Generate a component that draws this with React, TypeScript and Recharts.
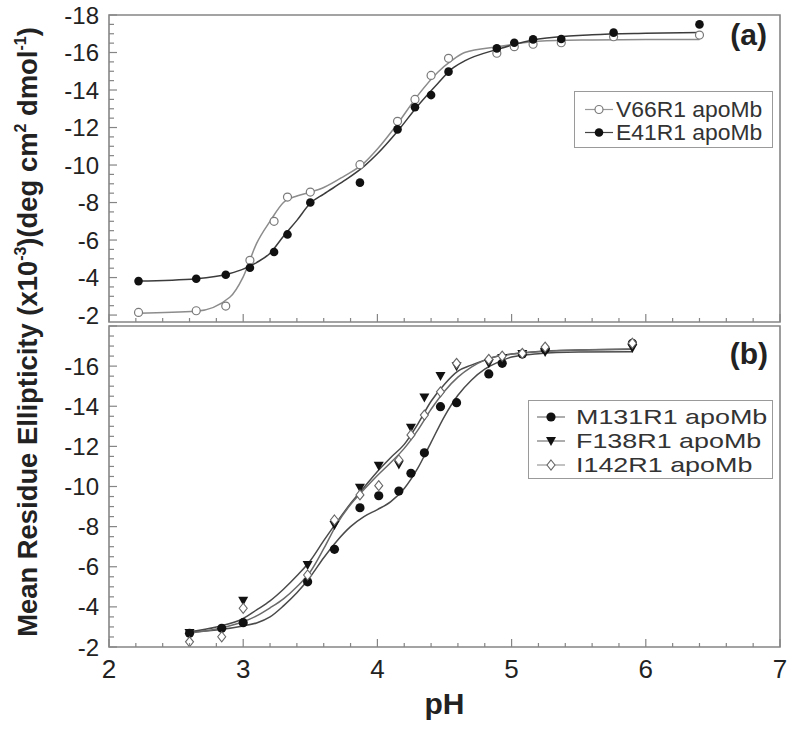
import { ComposedChart, Line, Scatter, XAxis, YAxis, ReferenceArea, Legend, Label } from "recharts"

// ---- panel (a) measured points ----
const phA = [2.22, 2.65, 2.87, 3.05, 3.23, 3.33, 3.5, 3.87, 4.15, 4.28, 4.4, 4.53, 4.89, 5.02, 5.16, 5.37, 5.76, 6.4]
const v66 = [-2.14, -2.23, -2.48, -4.92, -7.0, -8.29, -8.56, -10.02, -12.33, -13.5, -14.78, -15.69, -15.96, -16.31, -16.44, -16.52, -16.84, -16.93]
const e41 = [-3.81, -3.94, -4.15, -4.52, -5.36, -6.3, -8.0, -9.06, -11.9, -13.08, -13.73, -14.98, -16.22, -16.52, -16.7, -16.72, -17.06, -17.5]

// ---- panel (a) fitted curves ----
const fitPhA = [2.22, 2.65, 2.9, 3.0, 3.1, 3.2, 3.3, 3.4, 3.5, 3.6, 3.75, 3.9, 4.0, 4.15, 4.3, 4.45, 4.55, 4.65, 4.9, 5.2, 5.6, 6.0, 6.4]
const v66Fit = [-2.1, -2.2, -2.95, -4.04, -5.82, -7.0, -8.0, -8.35, -8.55, -8.8, -9.4, -10.1, -10.85, -12.2, -13.7, -14.95, -15.55, -16.0, -16.31, -16.6, -16.67, -16.7, -16.7]
const e41Fit = [-3.81, -3.94, -4.22, -4.45, -4.8, -5.3, -6.2, -7.05, -7.96, -8.45, -9.15, -9.93, -10.6, -11.8, -13.15, -14.35, -15.1, -15.55, -16.18, -16.72, -16.95, -17.03, -17.07]

// ---- panel (b) measured points ----
const phB = [2.6, 2.84, 3.0, 3.48, 3.68, 3.87, 4.01, 4.16, 4.25, 4.35, 4.47, 4.59, 4.83, 4.93, 5.08, 5.25, 5.9]
const m131 = [-2.68, -2.93, -3.21, -5.25, -6.87, -8.94, -9.54, -9.77, -10.66, -11.68, -13.98, -14.18, -15.61, -16.14, -16.6, -16.84, -17.14]
const i142 = [-2.26, -2.51, -3.93, -5.59, -8.33, -9.58, -10.04, -11.32, -12.57, -13.56, -14.72, -16.14, -16.34, -16.5, -16.64, -16.95, -17.14]
const phF = [2.6, 3.0, 3.48, 3.68, 3.87, 4.01, 4.16, 4.25, 4.35, 4.47, 4.59, 4.83, 4.93, 5.08, 5.25, 5.9]
const f138 = [-2.7, -4.31, -6.09, -8.08, -9.94, -11.04, -11.1, -12.93, -14.43, -15.51, -16.0, -16.14, -16.4, -16.6, -16.7, -16.9]

// ---- panel (b) fitted curves ----
const fitPhB = [2.6, 2.8, 3.0, 3.1, 3.2, 3.3, 3.4, 3.5, 3.6, 3.7, 3.8, 3.9, 4.0, 4.1, 4.2, 4.3, 4.4, 4.5, 4.6, 4.7, 4.8, 4.9, 5.0, 5.2, 5.5, 5.9]
const m131Fit = [-2.76, -2.85, -3.05, -3.2, -3.5, -4.05, -4.7, -5.5, -6.45, -7.3, -8.0, -8.5, -8.85, -9.25, -9.9, -10.9, -12.2, -13.5, -14.55, -15.3, -15.85, -16.2, -16.45, -16.62, -16.7, -16.72]
const f138Fit = [-2.76, -3.0, -3.42, -3.85, -4.3, -4.88, -5.55, -6.3, -7.3, -8.25, -9.15, -9.95, -10.75, -11.45, -12.1, -13.1, -14.25, -15.1, -15.75, -16.05, -16.3, -16.5, -16.6, -16.73, -16.8, -16.84]
const i142Fit = [-2.7, -2.9, -3.26, -3.55, -3.95, -4.4, -5.0, -5.75, -6.9, -8.15, -9.1, -9.85, -10.55, -11.2, -11.9, -12.8, -13.85, -14.75, -15.45, -15.95, -16.3, -16.5, -16.6, -16.72, -16.8, -16.85]

// ---- axes ----
const xTicks = [2, 2.2, 2.4, 2.6, 2.8, 3, 3.2, 3.4, 3.6, 3.8, 4, 4.2, 4.4, 4.6, 4.8, 5, 5.2, 5.4, 5.6, 5.8, 6, 6.2, 6.4, 6.6, 6.8, 7]
const xLabels = [2, 3, 4, 5, 6, 7]
const yTicks = [-18, -17.5, -17, -16.5, -16, -15.5, -15, -14.5, -14, -13.5, -13, -12.5, -12, -11.5, -11, -10.5, -10, -9.5, -9, -8.5, -8, -7.5, -7, -6.5, -6, -5.5, -5, -4.5, -4, -3.5, -3, -2.5, -2]
const yLabelsA = [-18, -16, -14, -12, -10, -8, -6, -4, -2]
const yLabelsB = [-16, -14, -12, -10, -8, -6, -4, -2]
const yDomainA = [-18, -1.63]
const yDomainB = [-18, -2]

const FONT = "'Liberation Sans', Arial, sans-serif"
const INK = "#222"
const FRAME = "#858585"

const pts = (xs: number[], ys: number[]) => xs.map((x, i) => ({ x, y: ys[i] }))

function XTick(props: any) {
  const { x, y, payload, showLabel } = props
  const major = xLabels.includes(payload.value)
  return (
    <g>
      <line x1={x} x2={x} y1={y} y2={y - (major ? 8 : 4)} stroke={FRAME} strokeWidth={1.2} />
      {showLabel && major && (
        <text x={x} y={y + 31} textAnchor="middle" fontFamily={FONT} fontSize={26} fill={INK}>
          {payload.value}
        </text>
      )}
    </g>
  )
}

function YTick(props: any) {
  const { x, y, payload, labels } = props
  const major = payload.value % 2 === 0
  return (
    <g>
      <line x1={x} x2={x + (major ? 8 : 5)} y1={y} y2={y} stroke={FRAME} strokeWidth={1.2} />
      {labels.includes(payload.value) && (
        <text x={x - 10} y={y + 8.5} textAnchor="end" fontFamily={FONT} fontSize={24} fill={INK}>
          {payload.value}
        </text>
      )}
    </g>
  )
}

// marker shapes
const openCircle = (p: any) => <circle cx={p.cx} cy={p.cy} r={4} fill="#fff" stroke="#7a7a7a" strokeWidth={1.2} />
const dotA = (p: any) => <circle cx={p.cx} cy={p.cy} r={4.3} fill="#111" />
const dotB = (p: any) => <circle cx={p.cx} cy={p.cy} r={4.6} fill="#111" />
const triDown = (p: any) => (
  <polygon points={`${p.cx - 5},${p.cy - 4} ${p.cx + 5},${p.cy - 4} ${p.cx},${p.cy + 5}`} fill="#111" />
)
const diamond = (p: any) => (
  <polygon points={`${p.cx},${p.cy - 5} ${p.cx + 4},${p.cy} ${p.cx},${p.cy + 5} ${p.cx - 4},${p.cy}`} fill="#fff" stroke="#666" strokeWidth={1.1} />
)

type Item = { name: string; line: string; marker: (p: any) => any }

const legendA: Item[] = [
  { name: "V66R1 apoMb", line: "#999", marker: openCircle },
  { name: "E41R1 apoMb", line: "#444", marker: dotA },
]
const legendB: Item[] = [
  { name: "M131R1 apoMb", line: "#777", marker: dotB },
  { name: "F138R1 apoMb", line: "#777", marker: triDown },
  { name: "I142R1 apoMb", line: "#999", marker: diamond },
]

function LegendRows({ items, fontSize, rowH, symGap, stretch }: { items: Item[]; fontSize: number; rowH: number; symGap: number; stretch: number }) {
  return (
    <div style={{ fontFamily: FONT, fontSize, lineHeight: `${rowH}px`, color: "#333" }}>
      {items.map((it) => (
        <div key={it.name} style={{ display: "flex", alignItems: "center", whiteSpace: "nowrap", height: rowH, overflow: "visible" }}>
          <svg width={30} height={rowH} style={{ flex: "none" }}>
            <line x1={1} x2={29} y1={rowH / 2} y2={rowH / 2} stroke={it.line} strokeWidth={1.2} />
            {it.marker({ cx: 15, cy: rowH / 2 })}
          </svg>
          <span
            style={{
              display: "inline-block",
              height: rowH,
              lineHeight: `${rowH}px`,
              marginLeft: symGap,
              transform: `scaleX(${stretch})`,
              transformOrigin: "left center",
            }}
          >
            {it.name}
          </span>
        </div>
      ))}
    </div>
  )
}

function LegendFrame({ items, fontSize, rowH, symGap, stretch, padTop, padLeft }: any) {
  return (
    <div style={{ position: "absolute", inset: 0 }}>
      <div style={{ position: "absolute", inset: 0, border: "1px solid #9a9a9a", background: "#fff" }} />
      <div style={{ position: "absolute", top: padTop, left: padLeft }}>
        <LegendRows items={items} fontSize={fontSize} rowH={rowH} symGap={symGap} stretch={stretch} />
      </div>
    </div>
  )
}

function TopPanel() {
  return (
    <ComposedChart width={800} height={340} margin={{ top: 15, right: 20, bottom: 0, left: 0 }}>
      <XAxis
        type="number"
        dataKey="x"
        domain={[2, 7]}
        allowDataOverflow
        ticks={xTicks}
        interval={0}
        tickSize={0}
        tickMargin={0}
        axisLine={false}
        tickLine={false}
        height={18}
        tick={(p: any) => <XTick {...p} showLabel={false} />}
      />
      <YAxis
        type="number"
        dataKey="y"
        domain={yDomainA}
        allowDataOverflow
        reversed
        ticks={yTicks}
        interval={0}
        tickSize={0}
        tickMargin={0}
        axisLine={false}
        tickLine={false}
        width={109}
        tick={(p: any) => <YTick {...p} labels={yLabelsA} />}
      />
      <ReferenceArea x1={2} x2={7} y1={yDomainA[0]} y2={yDomainA[1]} fill="none" fillOpacity={0} stroke={FRAME} strokeWidth={1.6} ifOverflow="visible" />
      <Line data={pts(fitPhA, v66Fit)} dataKey="y" type="monotone" stroke="#8c8c8c" strokeWidth={1.5} dot={false} isAnimationActive={false} legendType="none" />
      <Line data={pts(fitPhA, e41Fit)} dataKey="y" type="monotone" stroke="#3c3c3c" strokeWidth={1.5} dot={false} isAnimationActive={false} legendType="none" />
      <Scatter data={pts(phA, v66)} shape={openCircle} isAnimationActive={false} />
      <Scatter data={pts(phA, e41)} shape={dotA} isAnimationActive={false} />
      <Legend
        layout="vertical"
        align="center"
        verticalAlign="middle"
        wrapperStyle={{ top: 91, left: 574, width: 199, height: 57 }}
        content={() => <LegendFrame items={legendA} fontSize={22} rowH={23} symGap={2} stretch={1.04} padTop={7} padLeft={10} />}
      />
      <text x={767} y={45} textAnchor="end" fontFamily={FONT} fontSize={30} fontWeight="bold" fill={INK}>
        (a)
      </text>
    </ComposedChart>
  )
}

function BottomPanel() {
  return (
    <ComposedChart width={800} height={412} margin={{ top: 2, right: 20, bottom: 0, left: 0 }}>
      <XAxis
        type="number"
        dataKey="x"
        domain={[2, 7]}
        allowDataOverflow
        ticks={xTicks}
        interval={0}
        tickSize={0}
        tickMargin={0}
        axisLine={false}
        tickLine={false}
        height={89}
        tick={(p: any) => <XTick {...p} showLabel />}
      >
        <Label value="pH" position="insideBottom" offset={22} style={{ fontFamily: FONT, fontSize: 30, fontWeight: "bold", fill: INK }} />
      </XAxis>
      <YAxis
        type="number"
        dataKey="y"
        domain={yDomainB}
        allowDataOverflow
        reversed
        ticks={yTicks}
        interval={0}
        tickSize={0}
        tickMargin={0}
        axisLine={false}
        tickLine={false}
        width={109}
        tick={(p: any) => <YTick {...p} labels={yLabelsB} />}
      />
      <ReferenceArea x1={2} x2={7} y1={yDomainB[0]} y2={yDomainB[1]} fill="none" fillOpacity={0} stroke={FRAME} strokeWidth={1.6} ifOverflow="visible" />
      <Line data={pts(fitPhB, m131Fit)} dataKey="y" type="monotone" stroke="#4a4a4a" strokeWidth={1.5} dot={false} isAnimationActive={false} legendType="none" />
      <Line data={pts(fitPhB, f138Fit)} dataKey="y" type="monotone" stroke="#4a4a4a" strokeWidth={1.5} dot={false} isAnimationActive={false} legendType="none" />
      <Line data={pts(fitPhB, i142Fit)} dataKey="y" type="monotone" stroke="#6a6a6a" strokeWidth={1.5} dot={false} isAnimationActive={false} legendType="none" />
      <Scatter data={pts(phB, m131)} shape={dotB} isAnimationActive={false} />
      <Scatter data={pts(phF, f138)} shape={triDown} isAnimationActive={false} />
      <Scatter data={pts(phB, i142)} shape={diamond} isAnimationActive={false} />
      <Legend
        layout="vertical"
        align="center"
        verticalAlign="middle"
        wrapperStyle={{ top: 76, left: 528, width: 245, height: 79 }}
        content={() => <LegendFrame items={legendB} fontSize={21} rowH={24} symGap={10} stretch={1.28} padTop={5} padLeft={8} />}
      />
      <text x={768} y={40} textAnchor="end" fontFamily={FONT} fontSize={30} fontWeight="bold" fill={INK}>
        (b)
      </text>
    </ComposedChart>
  )
}

function YTitle() {
  return (
    <svg width={60} height={736} style={{ position: "absolute", left: 0, top: 0 }}>
      <text
        x={37}
        y={332}
        transform="rotate(-90 37 332)"
        textAnchor="middle"
        fontFamily={FONT}
        fontSize={27.4}
        fontWeight="bold"
        fill={INK}
      >
        Mean Residue Ellipticity (x10
        <tspan fontSize={16} dy={-11}>-3</tspan>
        <tspan dy={11}>)(deg cm</tspan>
        <tspan fontSize={16} dy={-11}>2</tspan>
        <tspan dy={11}> dmol</tspan>
        <tspan fontSize={16} dy={-11}>-1</tspan>
        <tspan dy={11}>)</tspan>
      </text>
    </svg>
  )
}

export default function App() {
  return (
    <div style={{ position: "absolute", left: 0, top: 0, width: 800, height: 736, background: "#fff" }}>
      <div style={{ position: "absolute", left: 0, top: 0 }}>
        <TopPanel />
      </div>
      <div style={{ position: "absolute", left: 0, top: 324 }}>
        <BottomPanel />
      </div>
      <YTitle />
    </div>
  )
}
